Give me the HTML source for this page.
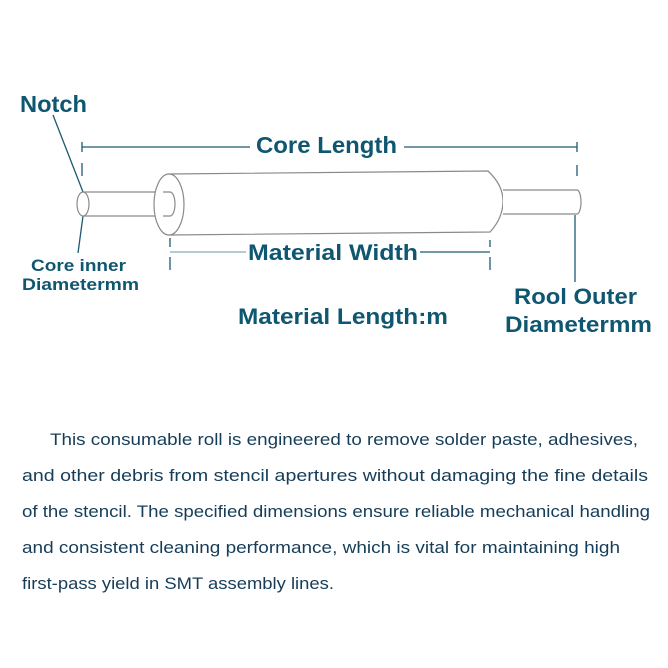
<!DOCTYPE html>
<html><head><meta charset="utf-8"><style>
html,body{margin:0;padding:0;background:#fff;}
svg{display:block;}
</style></head><body>
<svg width="668" height="668" viewBox="0 0 668 668" xmlns="http://www.w3.org/2000/svg">
<g font-family="Liberation Sans, sans-serif" font-weight="bold" fill="#0f5670">
<text x="20" y="112" font-size="23" textLength="67" lengthAdjust="spacingAndGlyphs">Notch</text>
<text x="256" y="153" font-size="23" textLength="141" lengthAdjust="spacingAndGlyphs">Core Length</text>
<text x="248" y="260" font-size="22" textLength="170" lengthAdjust="spacingAndGlyphs">Material Width</text>
<text x="238" y="324" font-size="22" textLength="210" lengthAdjust="spacingAndGlyphs">Material Length:m</text>
<text x="514" y="304" font-size="22" textLength="123" lengthAdjust="spacingAndGlyphs">Rool Outer</text>
<text x="505" y="332" font-size="22" textLength="147" lengthAdjust="spacingAndGlyphs">Diametermm</text>
<text x="31" y="271" font-size="17" textLength="95" lengthAdjust="spacingAndGlyphs">Core inner</text>
<text x="22" y="290" font-size="17" textLength="117" lengthAdjust="spacingAndGlyphs">Diametermm</text>
</g>
<g stroke="#1b5a72" stroke-width="1.3" fill="none">
<line x1="53" y1="115" x2="83" y2="192"/>
<line x1="83" y1="216" x2="78" y2="253"/>
<line x1="82" y1="147" x2="250" y2="147"/>
<line x1="404" y1="147" x2="577" y2="147"/>
<line x1="82" y1="142" x2="82" y2="152"/>
<line x1="82" y1="163" x2="82" y2="176"/>
<line x1="577" y1="142" x2="577" y2="152"/>
<line x1="577" y1="165" x2="577" y2="176"/>
<line x1="575" y1="215" x2="575" y2="282"/>
<line x1="420" y1="252" x2="490" y2="252"/>
<line x1="490" y1="240" x2="490" y2="247"/>
<line x1="490" y1="257" x2="490" y2="270"/>
<line x1="170" y1="238" x2="170" y2="247"/>
<line x1="170" y1="257" x2="170" y2="270"/>
</g>
<line x1="170" y1="252" x2="246" y2="252" stroke="#8aaab8" stroke-width="1.3"/>
<g stroke="#8a8a8a" stroke-width="1.2" fill="#fff">
<path d="M83,192 L170,192 A4,12 0 0 1 170,216 L83,216"/>
<ellipse cx="83" cy="204" rx="6" ry="12"/>
<path d="M169,174 L488,171 Q503,185 503,201 Q503,218 490,232 L169,235"/>
<ellipse cx="169" cy="204.5" rx="15" ry="30.5"/>
<path d="M503,190 L577,190 A4,12 0 0 1 577,214 L503,214"/>
</g>
<path d="M163,192 L170,192 A5,12 0 0 1 170,216 L163,216" stroke="#8a8a8a" stroke-width="1.2" fill="#fff"/>
<g font-family="Liberation Sans, sans-serif" font-size="17" fill="#163d58">
<text x="50" y="445" textLength="588" lengthAdjust="spacingAndGlyphs">This consumable roll is engineered to remove solder paste, adhesives,</text>
<text x="22" y="481" textLength="626" lengthAdjust="spacingAndGlyphs">and other debris from stencil apertures without damaging the fine details</text>
<text x="22" y="517" textLength="628" lengthAdjust="spacingAndGlyphs">of the stencil. The specified dimensions ensure reliable mechanical handling</text>
<text x="22" y="553" textLength="598" lengthAdjust="spacingAndGlyphs">and consistent cleaning performance, which is vital for maintaining high</text>
<text x="22" y="589" textLength="312" lengthAdjust="spacingAndGlyphs">first-pass yield in SMT assembly lines.</text>
</g>
</svg>
</body></html>
